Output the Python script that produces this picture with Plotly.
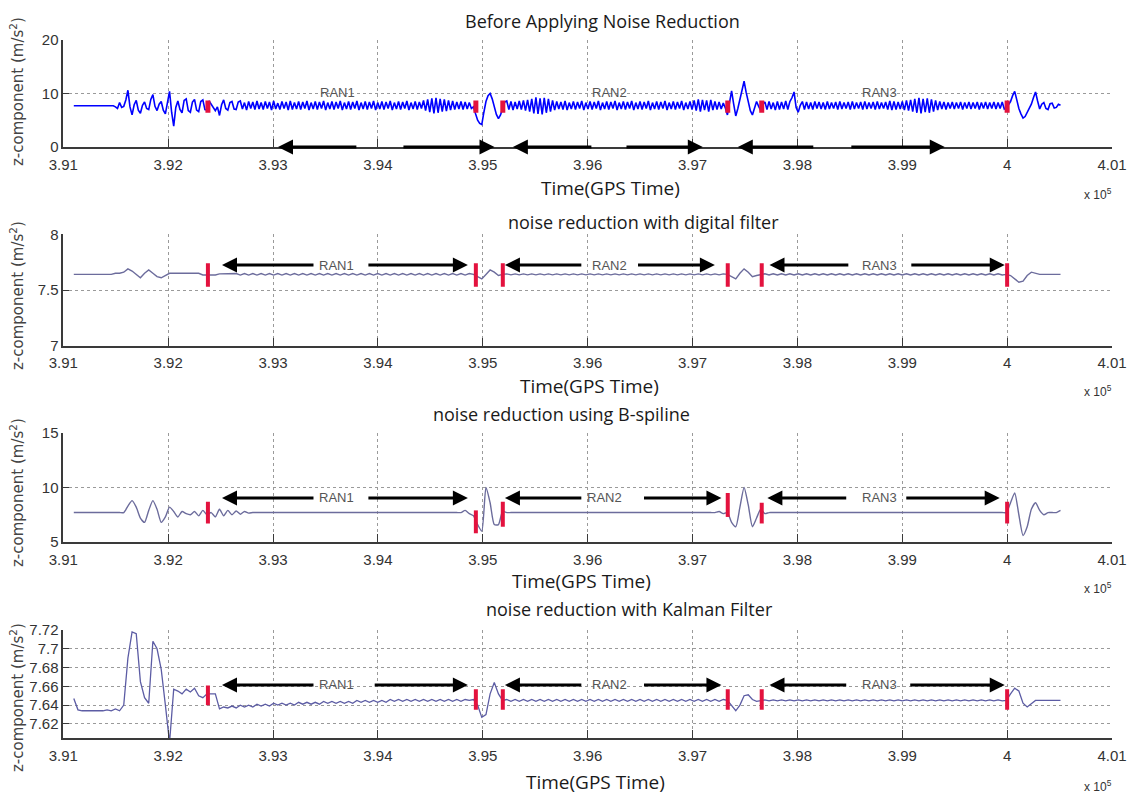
import plotly.graph_objects as go

W, H = 1129, 796


def px_x(p):
    return p / W


def px_y(p):
    return 1 - p / H


# ---------------- data (time in units of 10^5 s GPS time) ----------------
t0 = 3.9110          # first sample
dt = 0.000397        # sample spacing of the filtered series
dt_raw = 0.0001985   # sample spacing of the raw series

raw_z = [
    7.7, 7.7, 7.7, 7.7, 7.7, 7.7, 7.7, 7.7, 7.7, 7.7,
    7.7, 7.7, 7.7, 7.7, 7.7, 7.7, 7.7, 7.7, 7.7, 7.7,
    7.5, 7.2, 8.3, 7.4, 7.6, 8.8, 10.6, 7.5, 6.0, 7.9,
    8.7, 6.9, 6.3, 7.8, 8.4, 7.2, 7.0, 8.9, 9.8, 7.6,
    6.8, 8.0, 8.5, 6.9, 6.2, 8.2, 10.4, 6.5, 3.9, 7.4,
    8.6, 7.0, 6.4, 8.7, 9.0, 6.8, 6.5, 8.4, 8.9, 6.9,
    6.6, 8.5, 8.8, 7.0, 6.9, 8.6, 8.0, 7.2, 6.8, 7.5,
    5.9, 7.9, 8.8, 7.2, 6.9, 8.3, 8.5, 7.1, 7.0, 8.4,
    8.6, 7.1, 8.3, 6.9, 8.5, 7.2, 8.4, 7.0, 8.6, 7.1,
    8.3, 7.0, 8.5, 7.2, 8.4, 6.9, 8.6, 7.1, 8.2, 7.0,
    8.5, 7.2, 8.4, 6.9, 8.6, 7.0, 8.3, 7.1, 8.5, 7.0,
    8.4, 7.2, 8.6, 6.9, 8.3, 7.1, 8.5, 7.0, 8.4, 7.2,
    8.6, 6.9, 8.3, 7.1, 8.5, 7.0, 8.4, 7.2, 8.6, 6.9,
    8.3, 7.1, 8.5, 7.0, 8.4, 7.2, 8.6, 6.9, 8.3, 7.1,
    8.5, 7.0, 8.4, 7.2, 8.6, 6.9, 8.3, 7.1, 8.5, 7.0,
    8.4, 7.2, 8.6, 6.9, 8.3, 7.1, 8.5, 7.0, 8.4, 7.2,
    8.6, 6.9, 8.3, 7.1, 8.5, 7.0, 8.4, 7.2, 8.7, 6.8,
    8.9, 6.5, 9.1, 6.3, 9.2, 6.4, 9.0, 6.6, 8.9, 6.7,
    8.7, 6.9, 8.6, 7.0, 8.4, 7.1, 8.5, 7.0, 8.4, 7.1, 8.3, 7.2,
    7.5, 6.2, 5.0, 4.4, 4.2, 6.5, 8.5, 9.6, 10.0, 9.0,
    7.5, 6.1, 5.3, 6.0, 7.2, 8.4,
    8.6, 7.0, 8.5, 6.9, 8.4, 7.1, 8.6, 7.0, 8.7, 6.8, 8.8, 6.6,
    9.0, 6.3, 9.3, 6.2, 9.1, 6.1, 9.2, 6.4, 9.0, 6.6, 8.7, 6.9,
    8.5, 7.1, 8.4, 7.0, 8.6, 6.9, 8.3, 7.1, 8.5, 7.0,
    8.4, 7.2, 8.6, 6.9, 8.3, 7.1, 8.5, 7.0, 8.4, 7.2,
    8.6, 6.9, 8.3, 7.1, 8.5, 7.0, 8.4, 7.2, 8.6, 6.9,
    8.3, 7.1, 8.5, 7.0, 8.4, 7.2, 8.6, 6.9, 8.3, 7.1,
    8.5, 7.0, 8.4, 7.2, 8.6, 6.9, 8.3, 7.1, 8.5, 7.0,
    8.4, 7.2, 8.6, 6.9, 8.3, 7.1, 8.5, 7.0, 8.4, 7.2,
    8.6, 6.9, 8.3, 7.1, 8.5, 7.0, 8.7, 6.8, 8.9, 6.6,
    8.8, 6.9, 8.7, 6.6, 8.8, 6.9, 8.5, 7.0, 8.4, 7.1, 8.2, 7.3,
    6.0, 8.5, 10.5, 8.0, 5.8, 7.2, 9.0, 11.0, 12.3, 10.2,
    8.5, 6.8, 6.0, 7.3, 8.5, 7.6, 6.8, 8.0,
    8.4, 7.0, 8.5, 7.1, 8.3, 6.9, 8.5, 7.0, 8.4, 7.1,
    8.6, 7.0, 8.5, 9.2, 10.3, 7.4, 6.5, 7.8, 8.5, 7.0,
    8.4, 7.1, 8.3, 7.0, 8.5, 7.2, 8.4, 7.1, 8.3, 7.0,
    8.5, 7.1, 8.3, 7.2, 8.4, 7.0, 8.5, 7.1, 8.3, 7.2,
    8.4, 7.0, 8.5, 7.1, 8.3, 7.2, 8.4, 7.0, 8.5, 7.1,
    8.3, 7.2, 8.4, 7.0, 8.5, 7.1, 8.3, 7.2, 8.4, 7.0,
    8.6, 6.9, 8.5, 7.0, 8.4, 7.1, 8.5, 6.9, 8.7, 6.8,
    8.8, 6.6, 9.0, 6.4, 9.2, 6.3, 9.0, 6.5, 9.1, 6.4,
    8.9, 6.6, 8.7, 6.9, 8.5, 7.1, 8.4, 7.0, 8.3, 7.2,
    8.4, 7.1, 8.3, 7.2, 8.4, 7.0, 8.3, 7.2, 8.4, 7.1,
    8.3, 7.2, 8.4, 7.0, 8.3, 7.2, 8.4, 7.1, 8.3, 7.2,
    8.4, 7.1, 8.3, 7.2, 8.4, 7.1,
    7.3, 7.9, 8.5, 9.6, 10.4, 8.8, 7.2, 6.2, 5.4, 5.7,
    6.5, 7.3, 8.0, 9.2, 10.3, 8.6, 7.1, 8.0, 8.3, 7.2,
    7.0, 8.1, 8.2, 7.3, 7.4, 8.0, 7.8,
]

digital_z = [
    7.64, 7.64, 7.64, 7.64, 7.64, 7.64, 7.64, 7.64, 7.64, 7.64,
    7.65, 7.65, 7.66, 7.69, 7.67, 7.64, 7.61, 7.65, 7.68, 7.65,
    7.62, 7.61, 7.63, 7.65, 7.65, 7.65, 7.65, 7.65, 7.65, 7.65,
    7.65, 7.635, 7.635, 7.635, 7.635, 7.645, 7.645, 7.645, 7.645, 7.648,
    7.634, 7.648, 7.634, 7.648, 7.634, 7.648, 7.634, 7.648, 7.634, 7.648,
    7.634, 7.648, 7.634, 7.648, 7.634, 7.648, 7.634, 7.648, 7.634, 7.648,
    7.634, 7.648, 7.634, 7.648, 7.634, 7.648, 7.634, 7.648, 7.634, 7.648,
    7.634, 7.648, 7.634, 7.648, 7.634, 7.648, 7.634, 7.648, 7.634, 7.648,
    7.634, 7.648, 7.634, 7.648, 7.634, 7.648, 7.634, 7.648, 7.634, 7.648,
    7.634, 7.648, 7.634, 7.648, 7.634, 7.648, 7.64, 7.62, 7.60, 7.64,
    7.68, 7.66, 7.63, 7.64, 7.645, 7.636, 7.645, 7.636, 7.645, 7.636,
    7.645, 7.636, 7.645, 7.636, 7.645, 7.636, 7.645, 7.636, 7.645, 7.636,
    7.645, 7.636, 7.645, 7.636, 7.645, 7.636, 7.645, 7.636, 7.645, 7.636,
    7.645, 7.636, 7.645, 7.636, 7.645, 7.636, 7.645, 7.636, 7.645, 7.636,
    7.645, 7.636, 7.645, 7.636, 7.645, 7.636, 7.645, 7.636, 7.645, 7.636,
    7.645, 7.636, 7.645, 7.636, 7.645, 7.636, 7.645, 7.64, 7.62, 7.60,
    7.65, 7.69, 7.66, 7.62, 7.63, 7.64, 7.646, 7.635, 7.646, 7.635,
    7.646, 7.635, 7.646, 7.635, 7.646, 7.635, 7.646, 7.635, 7.646, 7.635,
    7.646, 7.635, 7.646, 7.635, 7.646, 7.635, 7.646, 7.635, 7.646, 7.635,
    7.646, 7.635, 7.646, 7.635, 7.646, 7.635, 7.646, 7.635, 7.646, 7.635,
    7.646, 7.635, 7.646, 7.635, 7.646, 7.635, 7.646, 7.635, 7.646, 7.635,
    7.646, 7.635, 7.646, 7.635, 7.646, 7.635, 7.646, 7.635, 7.646, 7.635,
    7.646, 7.635, 7.646, 7.635, 7.64, 7.63, 7.60, 7.57, 7.58, 7.63,
    7.66, 7.65, 7.64, 7.64, 7.64, 7.64, 7.64, 7.64,
]

bspline_z = [
    7.7, 7.7, 7.7, 7.7, 7.7, 7.7, 7.7, 7.7, 7.7, 7.7,
    7.7, 7.7, 7.7, 8.3, 8.8, 8.2, 7.2, 6.8, 7.9, 8.8,
    8.0, 6.8, 7.3, 8.2, 7.8, 7.3, 7.8, 7.6, 7.5, 7.8,
    7.4, 7.9, 7.5, 7.7, 7.3, 8.0, 7.4, 7.9, 7.5, 7.85,
    7.55, 7.8, 7.65, 7.7, 7.7, 7.7, 7.7, 7.7, 7.7, 7.7,
    7.7, 7.7, 7.7, 7.7, 7.7, 7.7, 7.7, 7.7, 7.7, 7.7,
    7.7, 7.7, 7.7, 7.7, 7.7, 7.7, 7.7, 7.7, 7.7, 7.7,
    7.7, 7.7, 7.7, 7.7, 7.7, 7.7, 7.7, 7.7, 7.7, 7.7,
    7.7, 7.7, 7.7, 7.7, 7.7, 7.7, 7.7, 7.7, 7.7, 7.7,
    7.7, 7.7, 7.7, 7.7, 7.9, 7.6, 7.4, 6.6, 6.0, 10.0,
    8.6, 6.6, 6.6, 7.8, 7.7, 7.7, 7.7, 7.7, 7.7, 7.7,
    7.7, 7.7, 7.7, 7.7, 7.7, 7.7, 7.7, 7.7, 7.7, 7.7,
    7.7, 7.7, 7.7, 7.7, 7.7, 7.7, 7.7, 7.7, 7.7, 7.7,
    7.7, 7.7, 7.7, 7.7, 7.7, 7.7, 7.7, 7.7, 7.7, 7.7,
    7.7, 7.7, 7.7, 7.7, 7.7, 7.7, 7.7, 7.7, 7.7, 7.7,
    7.7, 7.7, 7.7, 7.7, 7.7, 7.8, 7.6, 7.7, 6.8, 6.4,
    8.2, 10.0, 8.4, 6.4, 7.2, 8.0, 7.6, 7.7, 7.7, 7.7,
    7.7, 7.7, 7.7, 7.7, 7.7, 7.7, 7.7, 7.7, 7.7, 7.7,
    7.7, 7.7, 7.7, 7.7, 7.7, 7.7, 7.7, 7.7, 7.7, 7.7,
    7.7, 7.7, 7.7, 7.7, 7.7, 7.7, 7.7, 7.7, 7.7, 7.7,
    7.7, 7.7, 7.7, 7.7, 7.7, 7.7, 7.7, 7.7, 7.7, 7.7,
    7.7, 7.7, 7.7, 7.7, 7.7, 7.7, 7.7, 7.7, 7.7, 7.7,
    7.7, 7.7, 7.7, 7.7, 7.7, 8.6, 9.5, 7.5, 5.6, 6.4,
    8.0, 8.6, 7.9, 7.5, 7.7, 7.7, 7.7, 7.9,
]

kalman_z = [
    7.647, 7.635, 7.634, 7.634, 7.634, 7.634, 7.634, 7.634, 7.635, 7.634,
    7.636, 7.634, 7.640, 7.690, 7.718, 7.716, 7.665, 7.648, 7.642, 7.708,
    7.700, 7.678, 7.640, 7.600, 7.657, 7.655, 7.652, 7.657, 7.654, 7.658,
    7.650, 7.648, 7.652, 7.652, 7.652, 7.636, 7.638, 7.637, 7.639, 7.637,
    7.640, 7.638, 7.640, 7.638, 7.641, 7.639, 7.641, 7.639, 7.642, 7.640,
    7.642, 7.640, 7.642, 7.640, 7.643, 7.641, 7.643, 7.641, 7.643, 7.641,
    7.644, 7.642, 7.644, 7.642, 7.644, 7.642, 7.644, 7.642, 7.645, 7.643,
    7.645, 7.643, 7.645, 7.643, 7.645, 7.643, 7.646, 7.644, 7.646, 7.644,
    7.646, 7.644, 7.646, 7.644, 7.646, 7.644, 7.646, 7.644, 7.646, 7.644,
    7.646, 7.644, 7.646, 7.644, 7.646, 7.645, 7.646, 7.640, 7.627, 7.630,
    7.652, 7.664, 7.652, 7.645, 7.646, 7.644, 7.646, 7.644, 7.646, 7.644,
    7.646, 7.644, 7.646, 7.644, 7.646, 7.644, 7.646, 7.644, 7.646, 7.644,
    7.646, 7.644, 7.646, 7.644, 7.646, 7.644, 7.646, 7.644, 7.646, 7.644,
    7.646, 7.644, 7.646, 7.644, 7.646, 7.644, 7.646, 7.644, 7.646, 7.644,
    7.646, 7.644, 7.646, 7.644, 7.646, 7.644, 7.646, 7.644, 7.646, 7.644,
    7.646, 7.644, 7.646, 7.644, 7.646, 7.644, 7.646, 7.645, 7.640, 7.634,
    7.640, 7.650, 7.651, 7.646, 7.644, 7.645, 7.6455, 7.6445, 7.6455, 7.6445,
    7.6455, 7.6445, 7.6455, 7.6445, 7.6455, 7.6445, 7.6455, 7.6445, 7.6455, 7.6445,
    7.6455, 7.6445, 7.6455, 7.6445, 7.6455, 7.6445, 7.6455, 7.6445, 7.6455, 7.6445,
    7.6455, 7.6445, 7.6455, 7.6445, 7.6455, 7.6445, 7.6455, 7.6445, 7.6455, 7.6445,
    7.6455, 7.6445, 7.6455, 7.6445, 7.6455, 7.6445, 7.6455, 7.6445, 7.6455, 7.6445,
    7.6455, 7.6445, 7.6455, 7.6445, 7.6455, 7.6445, 7.6455, 7.6445, 7.6455, 7.6445,
    7.6455, 7.6445, 7.6455, 7.6445, 7.645, 7.652, 7.658, 7.655, 7.642, 7.638,
    7.642, 7.645, 7.645, 7.645, 7.645, 7.645, 7.645, 7.645,
]

time_raw = [round(t0 + dt_raw * j, 7) for j in range(len(raw_z))]
time = [round(t0 + dt * i, 6) for i in range(len(digital_z))]

# event (RAN boundary) times, x10^5 s
event_times = [3.92379, 3.94934, 3.95191, 3.97336, 3.97660, 4.00000]
raw_event_span = [(6.4, 8.7)] * 6
digital_event_span = [(7.53, 7.74)] * 6
bspline_event_span = [(6.7, 8.7), (5.8, 7.9), (6.4, 8.7), (7.3, 9.5), (6.7, 8.6), (6.7, 8.7)]
kalman_event_span = [(7.640, 7.661), (7.635, 7.657), (7.635, 7.657),
                     (7.635, 7.657), (7.635, 7.657), (7.635, 7.657)]

x_tick_vals = [3.91, 3.92, 3.93, 3.94, 3.95, 3.96, 3.97, 3.98, 3.99, 4.00, 4.01]
x_tick_text = ["3.91", "3.92", "3.93", "3.94", "3.95", "3.96", "3.97", "3.98", "3.99", "4", "4.01"]

ran_labels = ["RAN1", "RAN2", "RAN3"]

# ---------------- layout / style ----------------
NARROW = "Liberation Sans Narrow, Liberation Sans, Arial, sans-serif"
TITLE_FONT = "Open Sans, Noto Sans, sans-serif"

panels = [
    dict(title="Before Applying Noise Reduction", t=time_raw, z=raw_z, span=raw_event_span,
         yrange=[0, 20], ytv=[0, 10, 20], ytt=["0", "10", "20"],
         top=40, bottom=147, color="#0000ff", lw=1.6, ewidth=5, shape="linear",
         title_xy=(602, 21), xt_xy=(611, 188), x10_y=194, ylab_y=92,
         arrow_y=0.0,
         arrows=[(3.93047, 3.93809), (3.95112, 3.94229), (3.95287, 3.96050),
                 (3.97098, 3.96356), (3.97432, 3.98166), (3.99405, 3.98500)],
         ran_x=[3.93619, 3.96212, 3.98786], ran_y=10.1),
    dict(title="noise reduction with digital filter", t=time, z=digital_z, span=digital_event_span,
         yrange=[7, 8], ytv=[7, 7.5, 8], ytt=["7", "7.5", "8"],
         top=234.3, bottom=345.7, color="#6c6c9c", lw=1.4, ewidth=4, shape="linear",
         title_xy=(643, 222), xt_xy=(589, 386), x10_y=391, ylab_y=296,
         arrow_y=7.724,
         arrows=[(3.92513, 3.93400), (3.94858, 3.93895), (3.95211, 3.95954),
                 (3.97213, 3.96466), (3.97734, 3.98500), (3.99977, 3.99072)],
         ran_x=[3.93609, 3.96212, 3.98786], ran_y=7.724),
    dict(title="noise reduction using B-spiline", t=time, z=bspline_z, span=bspline_event_span,
         yrange=[5, 15], ytv=[5, 10, 15], ytt=["5", "10", "15"],
         top=433, bottom=542, color="#6c6c9c", lw=1.4, ewidth=4, shape="spline",
         title_xy=(561, 414), xt_xy=(581, 581), x10_y=588, ylab_y=493,
         arrow_y=9.04,
         arrows=[(3.92513, 3.93400), (3.94858, 3.93895), (3.95211, 3.95954),
                 (3.97276, 3.96523), (3.97714, 3.98480), (3.99929, 3.99024)],
         ran_x=[3.93609, 3.96161, 3.98786], ran_y=9.04),
    dict(title="noise reduction with Kalman Filter", t=time, z=kalman_z, span=kalman_event_span,
         yrange=[7.605, 7.72], ytv=[7.62, 7.64, 7.66, 7.68, 7.70, 7.72],
         ytt=["7.62", "7.64", "7.66", "7.68", "7.7", "7.72"],
         top=630, bottom=738, color="#5c5ca4", lw=1.3, ewidth=4, shape="linear",
         title_xy=(629, 609), xt_xy=(595, 782), x10_y=786, ylab_y=698,
         arrow_y=7.6615,
         arrows=[(3.92513, 3.93400), (3.94858, 3.93955), (3.95211, 3.95954),
                 (3.97276, 3.96523), (3.97734, 3.98480), (3.99977, 3.99062)],
         ran_x=[3.93609, 3.96212, 3.98786], ran_y=7.6615),
]

fig = go.Figure()
layout = dict(
    template="none",
    width=W, height=H, autosize=False,
    margin=dict(l=0, r=0, t=0, b=0, pad=0),
    paper_bgcolor="white", plot_bgcolor="white",
    showlegend=False,
    annotations=[],
)

x_dom = [px_x(63.3), px_x(1112)]

for k, p in enumerate(panels, start=1):
    xa = "x" if k == 1 else f"x{k}"
    ya = "y" if k == 1 else f"y{k}"
    xkey = "xaxis" if k == 1 else f"xaxis{k}"
    ykey = "yaxis" if k == 1 else f"yaxis{k}"

    line = dict(color=p["color"], width=p["lw"], shape=p["shape"])
    if p["shape"] == "spline":
        line["smoothing"] = 0.6
    fig.add_trace(go.Scatter(x=p["t"], y=p["z"], mode="lines", xaxis=xa, yaxis=ya,
                             line=line, hoverinfo="skip"))
    ex, ey = [], []
    for t, (lo, hi) in zip(event_times, p["span"]):
        ex += [t, t, None]
        ey += [lo, hi, None]
    fig.add_trace(go.Scatter(x=ex, y=ey, mode="lines", xaxis=xa, yaxis=ya,
                             line=dict(color="#e3123e", width=p["ewidth"]),
                             hoverinfo="skip"))

    layout[xkey] = dict(
        domain=x_dom, anchor=ya, range=[3.91, 4.01], automargin=False,
        tickmode="array", tickvals=x_tick_vals, ticktext=x_tick_text,
        showgrid=True, gridcolor="#9a9a9a", griddash="dot", gridwidth=1,
        showline=True, linecolor="#3a3a3a", linewidth=1.5,
        ticks="inside", ticklen=8, tickcolor="#3a3a3a", tickwidth=1.2,
        ticklabelstandoff=3,
        zeroline=False, tickfont=dict(family=NARROW, size=15, color="#333"),
    )
    layout[ykey] = dict(
        domain=[px_y(p["bottom"]), px_y(p["top"])], anchor=xa, range=p["yrange"],
        automargin=False,
        tickmode="array", tickvals=p["ytv"], ticktext=p["ytt"],
        showgrid=True, gridcolor="#9a9a9a", griddash="dot", gridwidth=1,
        showline=True, linecolor="#3a3a3a", linewidth=1.5,
        ticks="inside", ticklen=6, tickcolor="#3a3a3a", tickwidth=1.2,
        zeroline=False, tickfont=dict(family=NARROW, size=15, color="#333"),
    )

    ann = layout["annotations"]
    ann.append(dict(text=p["title"], x=px_x(p["title_xy"][0]), y=px_y(p["title_xy"][1]),
                    xref="paper", yref="paper", showarrow=False,
                    xanchor="center", yanchor="middle",
                    font=dict(family=TITLE_FONT, size=18, color="#1a1a1a")))
    ann.append(dict(text="Time(GPS Time)", x=px_x(p["xt_xy"][0]), y=px_y(p["xt_xy"][1]),
                    xref="paper", yref="paper", showarrow=False,
                    xanchor="center", yanchor="middle",
                    font=dict(family=TITLE_FONT, size=19, color="#1a1a1a")))
    ann.append(dict(text="x 10<sup>5</sup>", x=px_x(1098), y=px_y(p["x10_y"]),
                    xref="paper", yref="paper", showarrow=False,
                    xanchor="center", yanchor="middle",
                    font=dict(family=NARROW, size=12, color="#333")))
    ann.append(dict(text="z-component (m/s<sup>2</sup>)", x=px_x(17), y=px_y(p["ylab_y"]),
                    xref="paper", yref="paper", showarrow=False, textangle=-90,
                    xanchor="center", yanchor="middle",
                    font=dict(family="DejaVu Sans, sans-serif", size=15, color="#444")))
    for head, tail in p["arrows"]:
        ann.append(dict(text="", x=head, y=p["arrow_y"], ax=tail, ay=p["arrow_y"],
                        xref=xa, yref=ya, axref=xa, ayref=ya,
                        showarrow=True, arrowhead=2, arrowsize=1, arrowwidth=3,
                        arrowcolor="black", standoff=0, startstandoff=0))
    for lbl, rx in zip(ran_labels, p["ran_x"]):
        ann.append(dict(text=lbl, x=rx, y=p["ran_y"], xref=xa, yref=ya,
                        showarrow=False, xanchor="center", yanchor="middle",
                        font=dict(family=NARROW, size=13, color="#555")))

fig.update_layout(**layout)
fig.write_html("out.html")
